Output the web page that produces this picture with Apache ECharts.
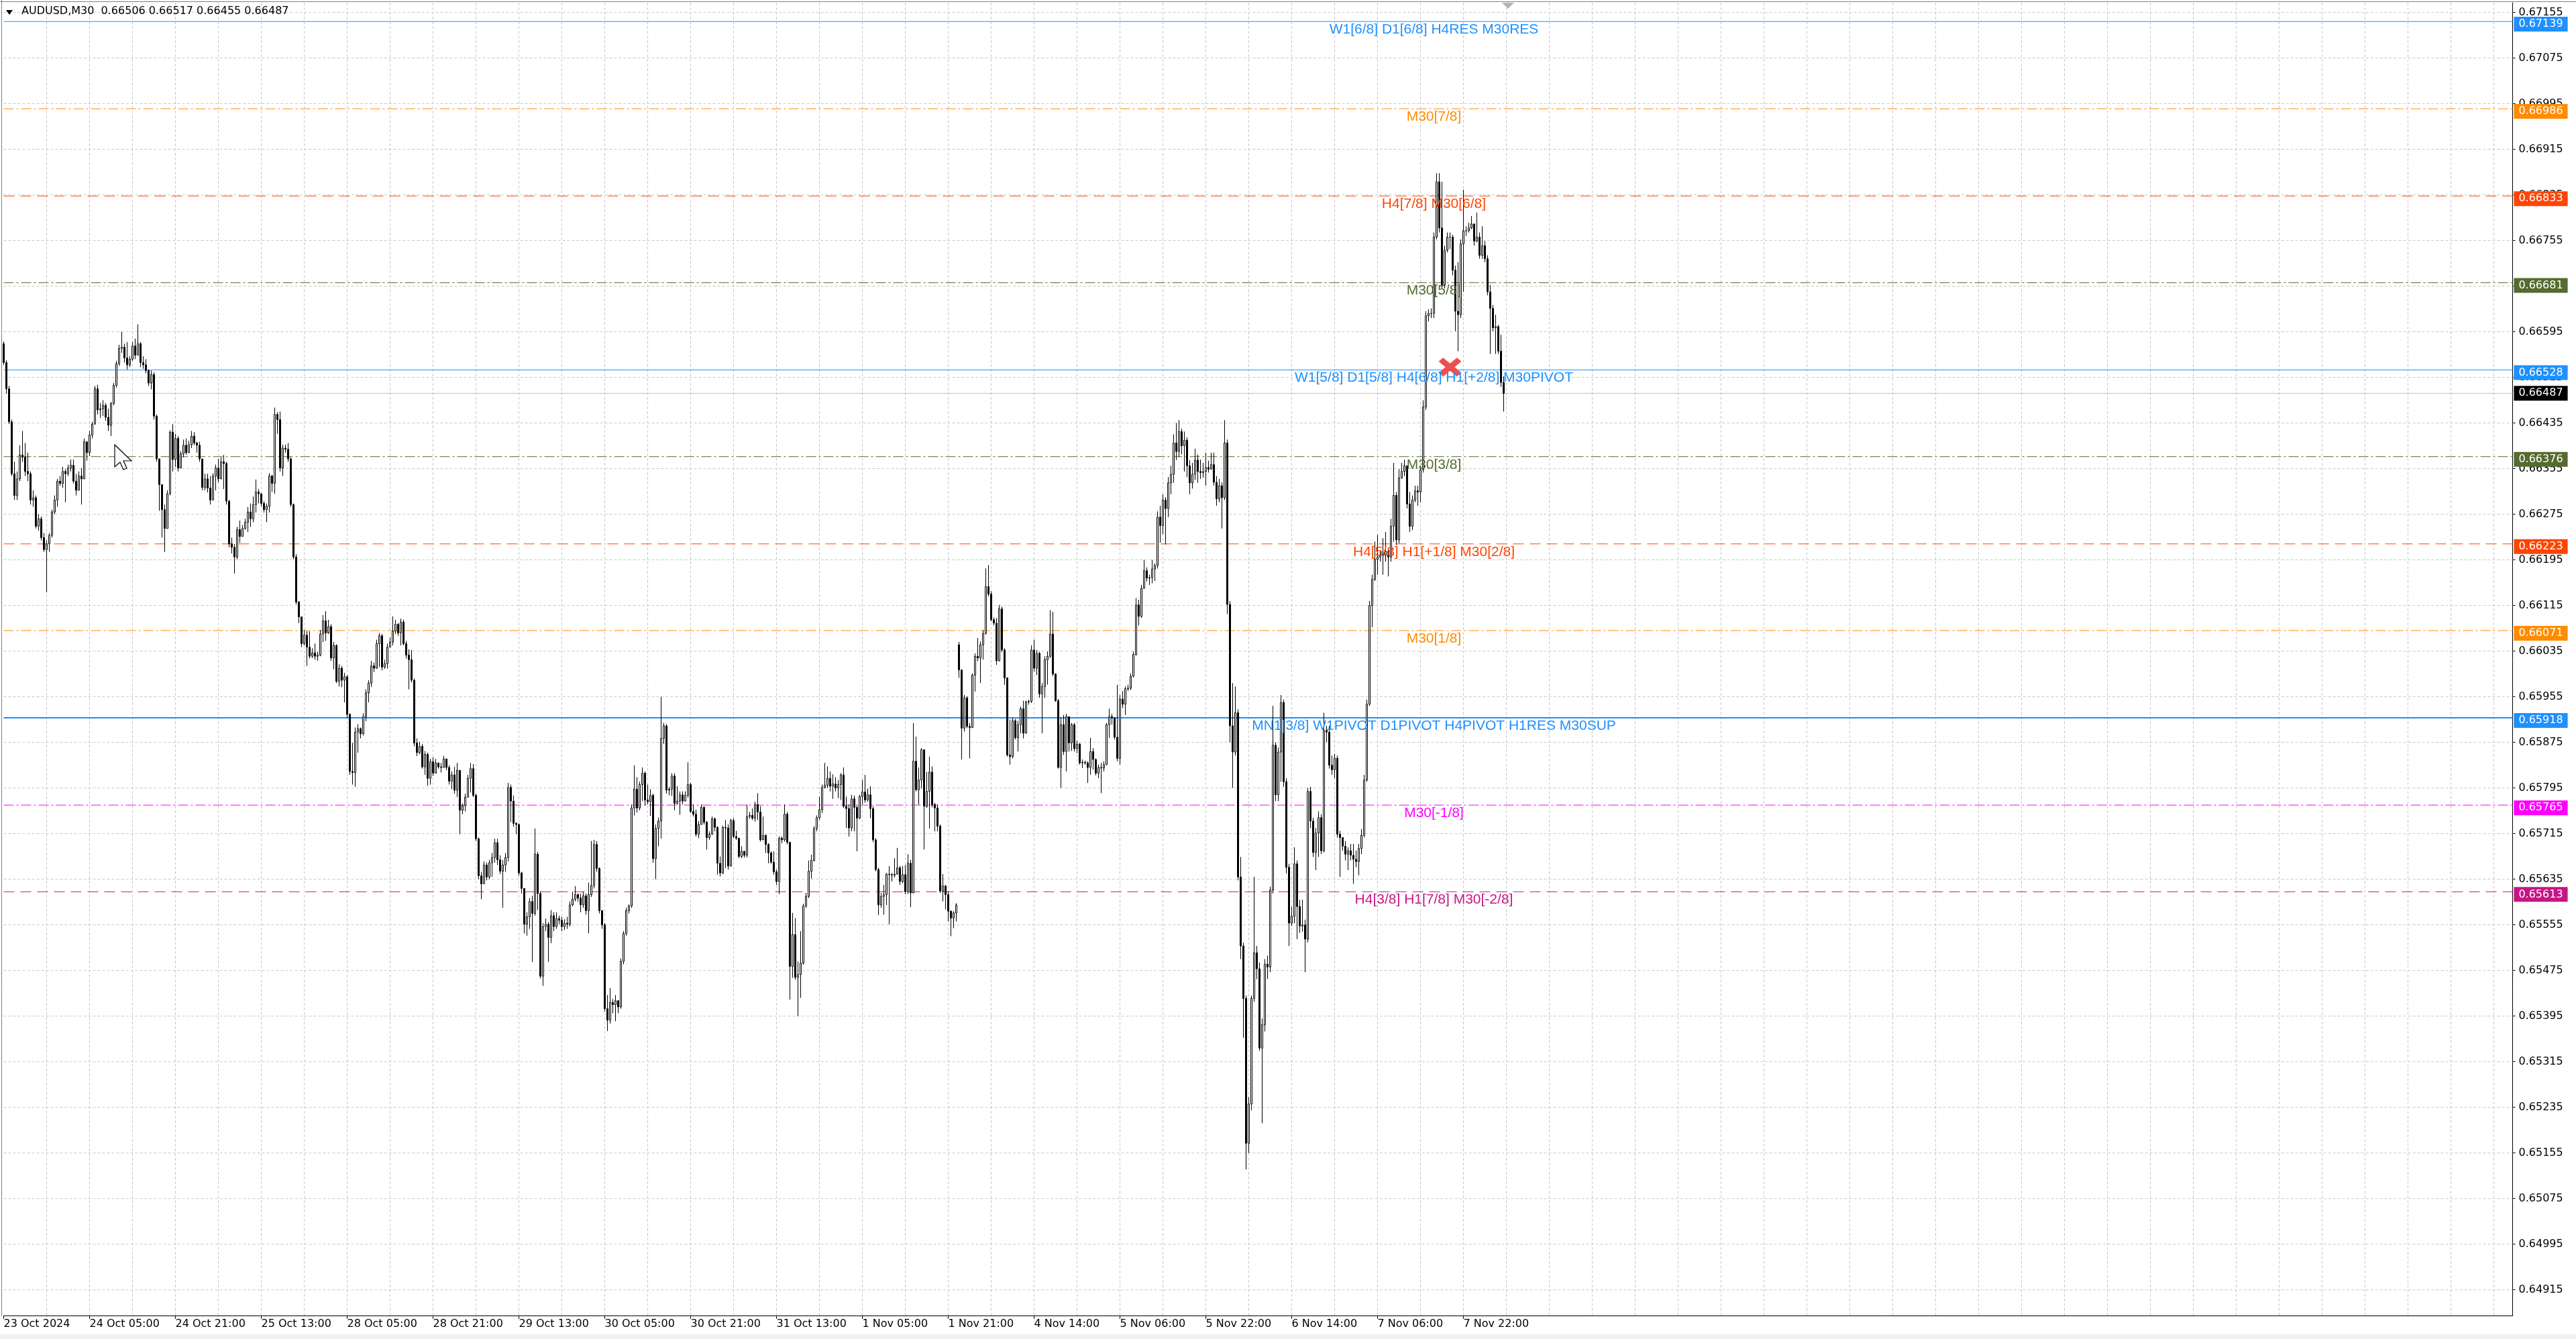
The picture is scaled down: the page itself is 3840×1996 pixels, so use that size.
<!DOCTYPE html>
<html>
<head>
<meta charset="utf-8">
<title>AUDUSD,M30</title>
<script src="https://cdn.jsdelivr.net/npm/echarts@6/dist/echarts.min.js"></script>
<style>
  html, body { margin: 0; padding: 0; background: #fff; }
  #chart { width: 3840px; height: 1996px; }
</style>
</head>
<body>
<div id="chart"></div>
<script>
// AUDUSD M30 bars, prices in points (1 point = 0.00001); open = previous close unless listed in gapOpens
var closePts = [
66541,66495,66437,66346,66308,66337,66379,66375,66350,66346,
66300,66304,66254,66267,66234,66213,66223,66238,66279,66300,
66333,66329,66350,66346,66356,66361,66333,66317,66342,66337,
66402,66383,66414,66433,66495,66458,66460,66466,66445,66431,
66469,66501,66539,66566,66568,66549,66537,66547,66570,66554,
66574,66541,66537,66527,66505,66520,66447,66372,66327,66283,
66250,66311,66419,66371,66408,66356,66381,66396,66383,66397,
66412,66400,66396,66372,66322,66337,66321,66300,66342,66356,
66337,66367,66364,66298,66223,66217,66200,66248,66236,66250,
66261,66279,66267,66292,66314,66311,66294,66283,66289,66342,
66329,66450,66441,66356,66391,66389,66372,66292,66200,66121,
66095,66048,66063,66042,66026,66032,66026,66028,66065,66088,
66067,66078,66023,66045,65982,66005,65984,65990,65924,65824,
65822,65893,65899,65890,65920,65962,65979,66009,66005,66048,
66062,66007,66013,66042,66051,66070,66082,66067,66086,66048,
66028,66020,65984,65874,65857,65868,65832,65854,65812,65841,
65821,65839,65832,65831,65846,65831,65807,65818,65791,65826,
65756,65764,65779,65812,65829,65782,65706,65641,65627,65660,
65639,65664,65673,65699,65669,65649,65660,65673,65796,65772,
65733,65731,65646,65619,65556,65569,65596,65575,65679,65610,
65465,65552,65556,65533,65571,65552,65566,65563,65552,65558,
65556,65590,65600,65608,65602,65590,65606,65580,65608,65624,
65696,65654,65580,65555,65408,65388,65419,65415,65422,65411,
65491,65540,65580,65588,65760,65793,65760,65801,65821,65774,
65771,65782,65671,65724,65737,65882,65904,65791,65793,65816,
65768,
65772,65783,65772,65782,65801,65754,65749,65714,65731,65761,
65735,65708,65714,65741,65726,65663,65646,65726,65725,65658,
65738,65710,65707,65675,65684,65677,65745,65747,65742,65766,
65753,65704,65712,65696,65681,65665,65648,65631,65707,65704,
65749,65700,65482,65538,65463,65468,65488,65588,65605,65649,
65668,65724,65743,65757,65796,65800,65812,65798,65802,65795,
65801,65818,65763,65759,65725,65776,65761,65742,65780,65788,
65774,65783,65759,65704,65652,65590,65605,65608,65644,65643,
65642,65644,65655,65631,65643,65613,65663,65611,65842,65792,
65809,65862,65763,65789,65823,65766,65760,65728,65614,65623,
65608,65579,65567,65576,65590,
66002,65900,65953,65903,65901,65993,66026,66023,66046,66066,
66148,66135,66090,66084,66018,66109,66037,65988,65853,65850,
65913,65883,65906,65934,65891,65946,65947,66037,66005,66031,
65960,65973,66020,66026,66065,65995,65948,65831,65906,65859,
65920,65874,65906,65864,65872,65839,65840,65839,65831,65859,
65845,65821,65831,65830,65836,65906,65920,65918,65884,65847,
65951,65942,65969,65970,65991,66029,66116,66096,66145,66176,
66163,66164,66179,66185,
66270,66255,66300,66285,66330,66345,66400,66385,66420,66395,
66405,66360,66330,66345,66370,66350,
66348,66350,66357,66354,66362,66331,66302,66325,66304,66400,
66117,65904,65858,65927,65639,65518,65426,65172,65241,65426,
65506,65478,65339,65380,65486,65481,65616,65870,65783,65858,
65945,65806,65656,65558,65570,65662,65587,65553,65555,65530,
65789,65737,65682,65716,65743,65685,65896,65893,65835,65827,
65847,65714,65708,65693,65679,65685,65677,65670,65666,65689,
65712,65809,65942,66115,66161,66196,66200,66204,66203,66210,
66200,66254,66308,66230,66339,66350,66360,66293,66254,66300,
66316,66314,66353,66463,66623,66627,66627,66761,66858,66777,
66677,66738,66761,66761,66703,66631,66625,66749,66772,66772,
66777,66784,66754,66761,66729,66746,66723,66665,66636,66602,
66604,66561,66506,66487
];
var highPts = [
66578,66545,66500,66441,66367,66350,66396,66421,66400,66383,
66350,66317,66308,66275,66271,66242,66229,66242,66283,66308,
66337,66342,66358,66354,66362,66371,66371,66346,66350,66356,
66408,66387,66421,66437,66500,66502,66470,66475,66470,66460,
66472,66505,66544,66572,66595,66574,66577,66552,66577,66583,
66608,66577,66552,66547,66529,66527,66524,66450,66371,66321,
66292,66317,66422,66433,66416,66412,66386,66406,66408,66404,
66421,66419,66402,66402,66372,66346,66346,66342,66347,66362,
66372,66375,66379,66367,66300,66234,66223,66253,66264,66256,
66267,66288,66294,66306,66336,66319,66311,66298,66294,66347,
66344,66462,66454,66455,66397,66397,66400,66375,66294,66205,
66123,66092,66072,66070,66070,66040,66048,66034,66072,66098,
66105,66090,66082,66051,66047,66012,66009,65997,65993,65926,
65874,65901,65907,65901,65926,65968,65984,66018,66015,66055,
66067,66065,66020,66048,66059,66096,66090,66084,66092,66090,
66053,66038,66037,65987,65882,65876,65872,65860,65857,65846,
65849,65846,65837,65839,65851,65843,65835,65824,65832,65839,
65826,65768,65785,65818,65839,65837,65785,65708,65648,65666,
65664,65669,65681,65706,65706,65677,65669,65681,65804,65801,
65782,65735,65733,65648,65619,65577,65602,65606,65724,65683,
65614,65558,65566,65560,65581,65577,65577,65571,65569,65565,
65569,65596,65613,65623,65610,65610,65613,65610,65629,65702,
65704,65702,65656,65581,65558,65432,65444,65425,65432,65423,
65496,65544,65585,65591,65766,65835,65814,65806,65831,65824,
65801,65793,65785,65731,65743,65955,65909,65907,65797,65821,
65821,
65798,65789,65789,65789,65840,65804,65766,65757,65737,65766,
65763,65737,65719,65745,65743,65728,65675,65729,65739,65731,
65741,65742,65720,65707,65693,65685,65766,65753,65759,65771,
65786,65763,65745,65713,65698,65684,65684,65652,65710,65710,
65766,65753,65698,65576,65567,65491,65544,65592,65611,65668,
65678,65728,65747,65780,65801,65839,65833,65824,65819,65814,
65809,65821,65831,65780,65766,65783,65782,65766,65783,65809,
65818,65794,65798,65763,65707,65655,65611,65625,65646,65658,
65646,65672,65690,65658,65658,65660,65679,65669,65909,65885,
65831,65865,65860,65823,65850,65833,65769,65766,65731,65644,
65625,65614,65580,65579,65593,
66051,66002,65958,65956,65909,65996,66031,66058,66052,66072,
66180,66186,66140,66094,66093,66116,66113,66040,65989,65915,
65918,65916,65913,65938,65948,65948,65950,66045,66055,66037,
66034,65979,66026,66034,66107,66104,65996,65951,65918,65923,
65925,65920,65909,65909,65878,65874,65845,65843,65842,65883,
65865,65847,65836,65839,65842,65909,65934,65925,65918,65976,
65958,65965,65973,65976,65996,66034,66128,66125,66151,66195,
66182,66169,66195,66189,
66280,66290,66310,66305,66340,66360,66415,66435,66440,66425,
66420,66410,66370,66365,66390,66380,
66371,66365,66383,66369,66383,66383,66342,66337,66331,66440,
66406,66123,65979,65973,65933,65674,65524,65431,65253,65431,
65639,65518,65489,65391,65495,65501,65622,65939,65875,65866,
65958,65950,65812,65662,65587,65691,65668,65599,65599,65564,
65795,65797,65743,65725,65754,65749,65927,65904,65904,65852,
65855,65852,65720,65708,65702,65691,65697,65697,65685,65697,
65723,65818,65950,66123,66169,66227,66239,66210,66233,66244,
66215,66267,66365,66314,66354,66365,66371,66360,66314,66308,
66325,66325,66360,66475,66631,66634,66636,66769,66873,66873,
66858,66746,66769,66769,66765,66711,66717,66757,66844,66780,
66786,66798,66769,66804,66769,66780,66754,66729,66677,66642,
66625,66607,66590,66517
];
var lowPts = [
66537,66487,66433,66342,66300,66300,66333,66367,66342,66333,
66292,66288,66250,66246,66229,66209,66138,66209,66234,66275,
66288,66325,66321,66296,66342,66350,66329,66308,66321,66292,
66346,66369,66377,66408,66433,66450,66444,66447,66439,66421,
66412,66466,66497,66535,66558,66541,66529,66533,66544,66547,
66555,66533,66530,66522,66500,66494,66441,66367,66281,66234,
66209,66250,66308,66350,66358,66350,66358,66375,66379,66387,
66391,66396,66383,66367,66317,66317,66313,66292,66300,66317,
66331,66337,66319,66292,66217,66206,66171,66196,66225,66236,
66248,66244,66253,66261,66278,66294,66289,66278,66261,66278,
66314,66311,66416,66350,66342,66383,66367,66288,66196,66117,
66084,66042,66045,66009,66022,66023,66020,66018,66026,66051,
66053,66065,66018,66003,65979,65973,65972,65945,65918,65818,
65801,65797,65857,65882,65887,65912,65945,65972,65998,66004,
66007,66001,66004,66004,66042,66045,66065,66062,66045,66045,
66022,65968,65980,65868,65851,65854,65829,65818,65799,65801,
65816,65826,65829,65822,65835,65826,65801,65793,65785,65779,
65714,65749,65754,65779,65787,65779,65702,65635,65600,65631,
65633,65635,65639,65664,65660,65644,65585,65648,65666,65735,
65727,65714,65641,65610,65540,65536,65548,65490,65571,65581,
65461,65448,65544,65490,65523,65544,65548,65556,65544,65546,
65548,65552,65588,65596,65596,65577,65585,65573,65540,65604,
65619,65648,65575,65548,65403,65369,65382,65400,65386,65400,
65408,65486,65536,65575,65585,65747,65752,65756,65772,65764,
65766,65746,65664,65635,65693,65706,65872,65785,65782,65781,
65756,
65766,65748,65766,65774,65778,65751,65745,65710,65707,65731,
65731,65687,65704,65713,65719,65643,65640,65644,65655,65652,
65658,65707,65704,65672,65672,65673,65673,65741,65739,65736,
65739,65701,65707,65681,65663,65662,65643,65625,65609,65698,
65701,65696,65424,65462,65459,65395,65427,65485,65585,65602,
65636,65666,65719,65739,65751,65794,65795,65789,65776,65789,
65777,65774,65760,65725,65710,65719,65719,65684,65741,65766,
65769,65771,65742,65700,65649,65572,65585,65573,65590,65556,
65631,65638,65643,65625,65628,65609,65609,65586,65687,65789,
65766,65794,65687,65760,65724,65761,65719,65719,65611,65596,
65582,65561,65535,65549,65561,
65988,65845,65894,65900,65847,65900,65964,66017,65979,66020,
66064,66131,66087,66080,66011,66017,66033,65976,65850,65836,
65847,65880,65859,65891,65882,65923,65941,65944,65999,65993,
65953,65891,65953,65976,66023,65991,65946,65829,65795,65853,
65824,65859,65860,65859,65856,65836,65830,65836,65804,65818,
65827,65817,65812,65786,65824,65835,65883,65906,65880,65842,
65836,65935,65923,65965,65967,65989,66027,66080,66093,66145,
66157,66151,66154,66158,
66180,66225,66240,66222,66270,66310,66330,66370,66375,66380,
66350,66340,66310,66320,66335,66330,
66337,66339,66325,66348,66354,66325,66290,66296,66250,66300,
66100,65875,65795,65852,65633,65495,65357,65126,65155,65230,
65420,65460,65334,65207,65368,65460,65472,65610,65772,65772,
65806,65797,65645,65518,65553,65558,65530,65541,65543,65472,
65524,65725,65674,65651,65674,65679,65682,65875,65829,65818,
65812,65708,65639,65685,65668,65651,65668,65627,65656,65642,
65679,65708,65806,65939,66077,66158,66169,66192,66169,66192,
66166,66192,66227,66221,66224,66337,66342,66285,66244,66247,
66296,66290,66296,66348,66458,66613,66619,66619,66757,66769,
66671,66671,66734,66740,66694,66596,66561,66619,66665,66763,
66769,66775,66746,66752,66723,66723,66717,66659,66556,66596,
66556,66556,66498,66455
];
var gapOpens = { 0: 66574, 356: 66046 };   // first bar, Monday 4 Nov opening gap

// time labels, one every 32 bars starting at bar 0
var timeLabels = ['23 Oct 2024', '24 Oct 05:00', '24 Oct 21:00', '25 Oct 13:00', '28 Oct 05:00',
  '28 Oct 21:00', '29 Oct 13:00', '30 Oct 05:00', '30 Oct 21:00', '31 Oct 13:00', '1 Nov 05:00',
  '1 Nov 21:00', '4 Nov 14:00', '5 Nov 06:00', '5 Nov 22:00', '6 Nov 14:00', '7 Nov 06:00', '7 Nov 22:00'];

var priceTicks = [0.64915, 0.64995, 0.65075, 0.65155, 0.65235, 0.65315, 0.65395, 0.65475, 0.65555,
  0.65635, 0.65715, 0.65795, 0.65875, 0.65955, 0.66035, 0.66115, 0.66195, 0.66275, 0.66355, 0.66435,
  0.66515, 0.66595, 0.66675, 0.66755, 0.66835, 0.66915, 0.66995, 0.67075, 0.67155];

// Murrey math style levels
var levelPrices = [0.67139, 0.66986, 0.66833, 0.66681, 0.66528, 0.66376, 0.66223, 0.66071, 0.65918, 0.65765, 0.65613];
var levelNames = [
  'W1[6/8] D1[6/8] H4RES M30RES',
  'M30[7/8]',
  'H4[7/8] M30[6/8]',
  'M30[5/8]',
  'W1[5/8] D1[5/8] H4[6/8] H1[+2/8] M30PIVOT',
  'M30[3/8]',
  'H4[5/8] H1[+1/8] M30[2/8]',
  'M30[1/8]',
  'MN1[3/8] W1PIVOT D1PIVOT H4PIVOT H1RES M30SUP',
  'M30[-1/8]',
  'H4[3/8] H1[7/8] M30[-2/8]'
];
var levelKinds = ['blue', 'orange', 'red', 'olive', 'blue', 'olive', 'red', 'orange', 'blueBold', 'magenta', 'violet'];
var bidPrice = 0.66487;
var signalBar = 539, signalPrice = 0.66533;

// ---- styles ----
var FONT = '"Liberation Sans", Arial, sans-serif';   // object labels
var UI_FONT = '"DejaVu Sans", Verdana, sans-serif'; // terminal texts (axes, title, price tags)
var kindStyle = {
  blue:     { color: '#1E90FF', type: 'solid', width: 1 },
  blueBold: { color: '#1E90FF', type: 'solid', width: 2 },
  orange:   { color: '#FF8C00', type: [15, 4, 3, 4], width: 1 },
  red:      { color: '#FF4500', type: [16, 9], width: 1 },
  olive:    { color: '#556B2F', type: [15, 4, 3, 4], width: 1 },
  magenta:  { color: '#FF00FF', type: [15, 4, 3, 4], width: 1 },
  violet:   { color: '#C71585', type: [16, 9], width: 1 }
};
var SLOTS = 936;       // bar slots visible across the window
var LABEL_IDX = 533;   // where the level texts are centred

var N = closePts.length;
var candles = [];
for (var i = 0; i < N; i++) {
  var o = gapOpens[i] !== undefined ? gapOpens[i] : closePts[i - 1];
  var c = closePts[i];
  var h = Math.max(highPts[i], o, c);
  var l = Math.min(lowPts[i], o, c);
  candles.push([o / 1e5, c / 1e5, l / 1e5, h / 1e5]);
}
var cats = [];
for (var k = 0; k < SLOTS; k++) cats.push(String(k));

// horizontal lines drawn as two-point line series across the full width
function hLine(price, style, z) {
  return {
    type: 'line', data: [[0, price], [SLOTS - 1, price]], symbol: 'none', silent: true, z: z,
    animation: false, lineStyle: style, emphasis: { disabled: true }
  };
}
var series = [];
priceTicks.forEach(function (p) {
  series.push(hLine(p, { color: '#C8C8C8', type: [4, 3], width: 1 }, 0));
});
series.push(hLine(bidPrice, { color: '#C0C0C0', type: 'solid', width: 1 }, 1));
levelPrices.forEach(function (p, j) {
  var s = kindStyle[levelKinds[j]];
  series.push(hLine(p, { color: s.color, type: s.type, width: s.width }, 1));
});

var levelTexts = levelPrices.map(function (p, j) {
  var s = kindStyle[levelKinds[j]];
  return {
    coord: [LABEL_IDX, p], symbol: 'circle', symbolSize: 1, itemStyle: { color: 'transparent' },
    label: { show: true, position: 'inside', offset: [0, 12], formatter: function () { return levelNames[j]; },
      color: s.color, fontSize: 21, fontFamily: FONT }
  };
});
series.push({
  name: 'levelText', type: 'line', data: [], z: 1, silent: true,
  markPoint: { silent: true, animation: false, data: levelTexts }
});

function priceTag(p, bg, dy) {
  return {
    coord: [SLOTS - 1, p], symbol: 'circle', symbolSize: 1, itemStyle: { color: 'transparent' },
    label: { show: true, position: 'inside', offset: [42, dy], formatter: p.toFixed(5),
      color: '#fff', backgroundColor: bg, padding: [3, 7, 2, 7], fontSize: 16, lineHeight: 17, fontFamily: UI_FONT }
  };
}
var priceBoxes = levelPrices.map(function (p, j) {
  return priceTag(p, kindStyle[levelKinds[j]].color, 4);
});
priceBoxes.push(priceTag(bidPrice, '#000', 0));

var signalMark = {
  coord: [signalBar, signalPrice],
  symbol: 'path://M2,0 L5,3 L8,0 L10,2 L7,5 L10,8 L8,10 L5,7 L2,10 L0,8 L3,5 L0,2 Z',
  symbolSize: [34, 28], itemStyle: { color: 'rgba(240,60,60,0.9)' }, label: { show: false }
};
series.push({
  name: 'AUDUSD', type: 'candlestick', data: candles, z: 2, barWidth: 3, silent: true,
  itemStyle: { color: '#ffffff', color0: '#000000', borderColor: '#000000', borderColor0: '#000000', borderWidth: 1 },
  markPoint: { silent: true, animation: false, label: { show: false }, data: [signalMark].concat(priceBoxes) }
});

var last = N - 1;
var lastOpen = closePts[last - 1];
var titleText = 'AUDUSD,M30  ' + (lastOpen / 1e5).toFixed(5) + ' ' + (Math.max(highPts[last], lastOpen) / 1e5).toFixed(5) +
  ' ' + (lowPts[last] / 1e5).toFixed(5) + ' ' + (closePts[last] / 1e5).toFixed(5);

var chart = echarts.init(document.getElementById('chart'));
chart.setOption({
  animation: false,
  backgroundColor: '#fff',
  grid: { left: 5.5, right: 94.5, top: 4, bottom: 35, containLabel: false, outerBoundsMode: 'none' },
  xAxis: {
    type: 'category', data: cats, boundaryGap: false,
    axisLine: { show: true, lineStyle: { color: '#000', width: 1 } },
    axisTick: { show: true, length: 5, lineStyle: { color: '#000' },
      interval: function (idx) { return idx % 32 === 0 && idx / 32 < timeLabels.length; } },
    axisLabel: { show: true, align: 'left', margin: 5, fontSize: 16, color: '#000', fontFamily: UI_FONT,
      interval: function (idx) { return idx % 32 === 0 && idx / 32 < timeLabels.length; },
      formatter: function (v) { return timeLabels[Number(v) / 32] || ''; } },
    splitLine: { show: true, lineStyle: { color: '#C8C8C8', type: [4, 3], width: 1 },
      interval: function (idx) { return idx > 0 && idx % 16 === 0; } }
  },
  yAxis: {
    type: 'value', position: 'right', min: 0.64870, max: 0.67172,
    axisLine: { show: true, lineStyle: { color: '#000', width: 1 } },
    axisTick: { show: true, length: 4, customValues: priceTicks, lineStyle: { color: '#000' } },
    axisLabel: { show: true, customValues: priceTicks, margin: 9, fontSize: 16, color: '#000', fontFamily: UI_FONT,
      formatter: function (v) { return v.toFixed(5); } },
    splitLine: { show: false }
  },
  series: series,
  graphic: [
    { type: 'line', shape: { x1: 0, y1: 2.5, x2: 3840, y2: 2.5 }, style: { stroke: '#808080', lineWidth: 1 }, z: 50 },
    { type: 'line', shape: { x1: 2.5, y1: 0, x2: 2.5, y2: 1962 }, style: { stroke: '#808080', lineWidth: 1 }, z: 50 },
    { type: 'rect', shape: { x: 0, y: 1989, width: 3840, height: 7 }, style: { fill: '#F0F0F0' }, z: 50 },
    { type: 'polygon', shape: { points: [[9, 15], [19, 15], [14, 22]] }, style: { fill: '#000' }, z: 50 },
    { type: 'text', x: 32, y: 17, style: { text: titleText, fontSize: 16, fontFamily: UI_FONT, fill: '#000', verticalAlign: 'middle' }, z: 50 },
    { type: 'polygon', shape: { points: [[2239, 4], [2257, 4], [2248, 13]] }, style: { fill: '#B4B4B4' }, z: 50 },
    { type: 'polygon', x: 171, y: 663,
      shape: { points: [[0, 0], [0, 33], [8, 26], [13, 37], [18, 35], [13, 24], [25, 24]] },
      style: { fill: '#fff', stroke: '#000', lineWidth: 1.2 }, z: 50 }
  ]
});
</script>
</body>
</html>
